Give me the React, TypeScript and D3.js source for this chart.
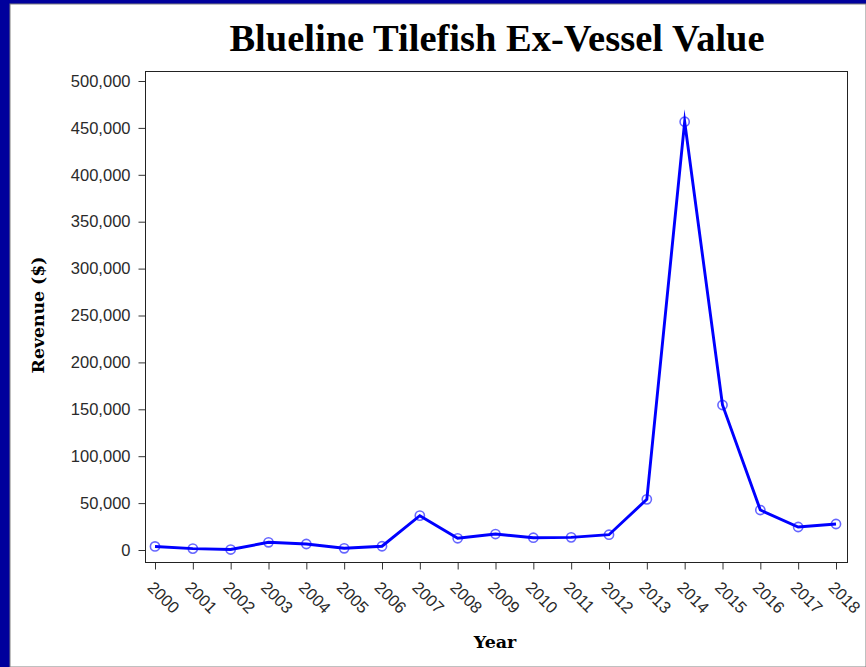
import { useEffect, useRef } from "react"
import * as d3 from "d3"

const years = [2000, 2001, 2002, 2003, 2004, 2005, 2006, 2007, 2008, 2009, 2010, 2011, 2012, 2013, 2014, 2015, 2016, 2017, 2018]
const revenue = [3800, 1500, 500, 8200, 6400, 1800, 4000, 36600, 12500, 17000, 13100, 13500, 16300, 54000, 456600, 154600, 42600, 24500, 27700]
const yTicks = [0, 50000, 100000, 150000, 200000, 250000, 300000, 350000, 400000, 450000, 500000]

export default function App() {
  const svgRef = useRef<SVGSVGElement>(null)

  useEffect(() => {
    if (!svgRef.current) return
    const root = d3.select(svgRef.current)
    root.selectAll("*").remove()

    const W = 866
    const H = 667
    root.attr("width", W).attr("height", H)

    // blue frame round the white panel
    root.append("rect").attr("width", W).attr("height", H).attr("fill", "#00009c")
    root.append("rect").attr("x", 10).attr("y", 4).attr("width", W - 10).attr("height", H - 4)
      .attr("fill", "#fff").attr("stroke", "#808080").attr("stroke-width", 1)

    const frame = { left: 145.5, right: 847.5, top: 71.5, bottom: 562.5 }

    const x = d3.scalePoint<number>()
      .domain(years)
      .range([155, 836])

    const y = d3.scaleLinear()
      .domain([0, 500000])
      .range([550, 81])

    // title
    root.append("text")
      .attr("x", 497).attr("y", 51)
      .attr("text-anchor", "middle")
      .attr("font-family", "'Liberation Serif', 'Times New Roman', serif")
      .attr("font-weight", "bold")
      .attr("font-size", 38.5)
      .attr("fill", "#000")
      .text("Blueline Tilefish Ex-Vessel Value")

    // y axis
    const yAxis = root.append("g")
      .attr("transform", `translate(${frame.left},0)`)
      .call(d3.axisLeft(y).tickValues(yTicks).tickSize(7).tickPadding(8).tickFormat(d3.format(",")))
    yAxis.select(".domain").remove()
    yAxis.selectAll("line").attr("stroke", "#333")
    yAxis.selectAll("text")
      .attr("font-family", "'Liberation Sans', Arial, sans-serif")
      .attr("font-size", 16.5)
      .attr("fill", "#2a2a2a")

    // x axis
    const xAxis = root.append("g")
      .attr("transform", `translate(0,${frame.bottom})`)
      .call(d3.axisBottom(x).tickSize(7).tickFormat(d => String(d)))
    xAxis.select(".domain").remove()
    xAxis.selectAll("line").attr("stroke", "#333")
    xAxis.selectAll("text")
      .attr("font-family", "'Liberation Sans', Arial, sans-serif")
      .attr("font-size", 16.5)
      .attr("fill", "#2a2a2a")
      .attr("text-anchor", "start")
      .attr("dy", null)
      .attr("y", 0)
      .attr("transform", "translate(-9,26) rotate(45)")

    // plot frame
    root.append("rect")
      .attr("x", frame.left).attr("y", frame.top)
      .attr("width", frame.right - frame.left).attr("height", frame.bottom - frame.top)
      .attr("fill", "none").attr("stroke", "#222").attr("stroke-width", 1)

    // axis titles
    root.append("text")
      .attr("transform", `translate(44,315) rotate(-90)`)
      .attr("text-anchor", "middle")
      .attr("font-family", "'DejaVu Serif', serif")
      .attr("font-weight", "bold")
      .attr("font-size", 17.3)
      .attr("fill", "#000")
      .text("Revenue ($)")

    root.append("text")
      .attr("x", 495).attr("y", 648)
      .attr("text-anchor", "middle")
      .attr("font-family", "'DejaVu Serif', serif")
      .attr("font-weight", "bold")
      .attr("font-size", 17.5)
      .attr("fill", "#000")
      .text("Year")

    const pts = years.map((yr, i) => ({ yr, v: revenue[i] }))

    const line = d3.line<{ yr: number; v: number }>()
      .x(d => x(d.yr) as number)
      .y(d => y(d.v))

    root.append("path")
      .datum(pts)
      .attr("fill", "none")
      .attr("stroke", "#0000ff")
      .attr("stroke-width", 2.9)
      .attr("stroke-linejoin", "miter")
      .attr("stroke-miterlimit", 12)
      .attr("d", line)

    root.append("g")
      .selectAll("circle")
      .data(pts)
      .join("circle")
      .attr("cx", d => x(d.yr) as number)
      .attr("cy", d => y(d.v))
      .attr("r", 4.6)
      .attr("fill", "none")
      .attr("stroke", "#0000ff")
      .attr("stroke-opacity", 0.6)
      .attr("stroke-width", 1.6)
  }, [])

  return (
    <div style={{ position: "absolute", left: 0, top: 0 }}>
      <svg ref={svgRef} style={{ display: "block" }}></svg>
    </div>
  )
}
